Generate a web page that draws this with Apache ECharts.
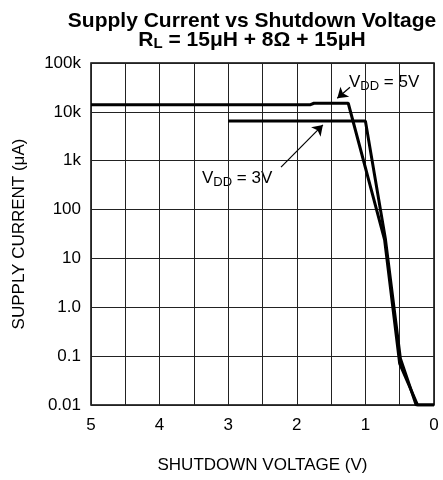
<!DOCTYPE html>
<html>
<head>
<meta charset="utf-8">
<script src="https://cdn.jsdelivr.net/npm/echarts@6/dist/echarts.min.js"></script>
<style>html,body{margin:0;padding:0;background:#fff;}#c{width:443px;height:480px;}</style>
</head>
<body>
<div id="c"></div>
<script>
// ---- data ----
var v5Volts   = [5, 1.8, 1.75, 1.25, 0.72, 0.5, 0.24, 0];
var v5Current = [14000, 14000, 15000, 15000, 24, 0.07, 0.01, 0.01];
var v3Volts   = [3, 1.0, 0.71, 0.49, 0.26, 0];
var v3Current = [6500, 6500, 26, 0.09, 0.01, 0.01];
var xTickLabels = ['0', '1', '2', '3', '4', '5'];
var yTickLabels = ['0.01', '0.1', '1.0', '10', '100', '1k', '10k', '100k'];
var arrow5 = [[1.225, 32000], [1.41, 19000]];
var arrow3 = [[2.23, 740], [1.62, 5400]];

function pairs(xs, ys) { return xs.map(function (x, i) { return [x, ys[i]]; }); }

var FONT = '"Liberation Sans", Arial, Helvetica, sans-serif';
var chart = echarts.init(document.getElementById('c'), null, {renderer: 'canvas'});

chart.setOption({
  animation: false,
  backgroundColor: '#fff',
  textStyle: {fontFamily: FONT, color: '#000'},
  grid: {left: 91, right: 9, top: 63, bottom: 75, show: true, borderColor: '#000', borderWidth: 1.5, backgroundColor: 'transparent'},
  xAxis: {
    type: 'value', inverse: true, min: 0, max: 5, interval: 0.5,
    name: 'SHUTDOWN VOLTAGE (V)', nameLocation: 'middle', nameGap: 52,
    nameTextStyle: {fontFamily: FONT, fontSize: 17, color: '#000'},
    axisLine: {show: false}, axisTick: {show: false},
    axisLabel: {
      margin: 12, fontFamily: FONT, fontSize: 17, color: '#000',
      formatter: function (v) { return Math.abs(v - Math.round(v)) < 1e-6 ? xTickLabels[Math.round(v)] : ''; }
    },
    splitLine: {show: true, lineStyle: {color: '#222', width: 1}}
  },
  yAxis: {
    type: 'log', logBase: 10, min: 0.01, max: 100000, interval: 1,
    name: 'SUPPLY CURRENT (\u03bcA)', nameLocation: 'middle', nameGap: 63, nameRotate: 90,
    nameTextStyle: {fontFamily: FONT, fontSize: 17, color: '#000'},
    axisLine: {show: false}, axisTick: {show: false},
    axisLabel: {
      margin: 10, fontFamily: FONT, fontSize: 17, color: '#000',
      formatter: function (v) { return yTickLabels[Math.round(Math.log10(v)) + 2]; }
    },
    splitLine: {show: true, lineStyle: {color: '#222', width: 1}}
  },
  series: [
    {
      type: 'line', data: pairs(v5Volts, v5Current), symbol: 'none',
      lineStyle: {color: '#000', width: 3}, z: 5,
      markLine: {
        silent: true, symbol: ['none', 'arrow'], symbolSize: 10, label: {show: false},
        lineStyle: {color: '#000', width: 1.2, type: 'solid'},
        data: [
          [{coord: arrow5[0]}, {coord: arrow5[1]}],
          [{coord: arrow3[0]}, {coord: arrow3[1]}]
        ]
      }
    },
    {
      type: 'line', data: pairs(v3Volts, v3Current), symbol: 'none',
      lineStyle: {color: '#000', width: 3}, z: 5
    }
  ],
  graphic: [
    {type: 'text', x: 252, y: 21, style: {
      text: 'Supply Current vs Shutdown Voltage', align: 'center', verticalAlign: 'middle', fill: '#000',
      font: 'bold 21px ' + FONT}},
    {type: 'text', x: 252, y: 40, style: {
      text: '{m|R}{s|L}{m| = 15\u03bcH + 8\u03a9 + 15\u03bcH}', align: 'center', verticalAlign: 'middle',
      rich: {
        m: {font: 'bold 21px ' + FONT, fill: '#000', lineHeight: 22},
        s: {font: 'bold 15px ' + FONT, fill: '#000', verticalAlign: 'bottom', lineHeight: 14}
      }}},
    {type: 'text', x: 349, y: 82, style: {
      text: '{m|V}{s|DD}{m| = 5V}', align: 'left', verticalAlign: 'middle',
      rich: {
        m: {font: '17px ' + FONT, fill: '#000', lineHeight: 22},
        s: {font: '13px ' + FONT, fill: '#000', verticalAlign: 'bottom', lineHeight: 13}
      }}},
    {type: 'text', x: 202, y: 178, style: {
      text: '{m|V}{s|DD}{m| = 3V}', align: 'left', verticalAlign: 'middle',
      rich: {
        m: {font: '17px ' + FONT, fill: '#000', lineHeight: 22},
        s: {font: '13px ' + FONT, fill: '#000', verticalAlign: 'bottom', lineHeight: 13}
      }}}
  ]
});
</script>
</body>
</html>
